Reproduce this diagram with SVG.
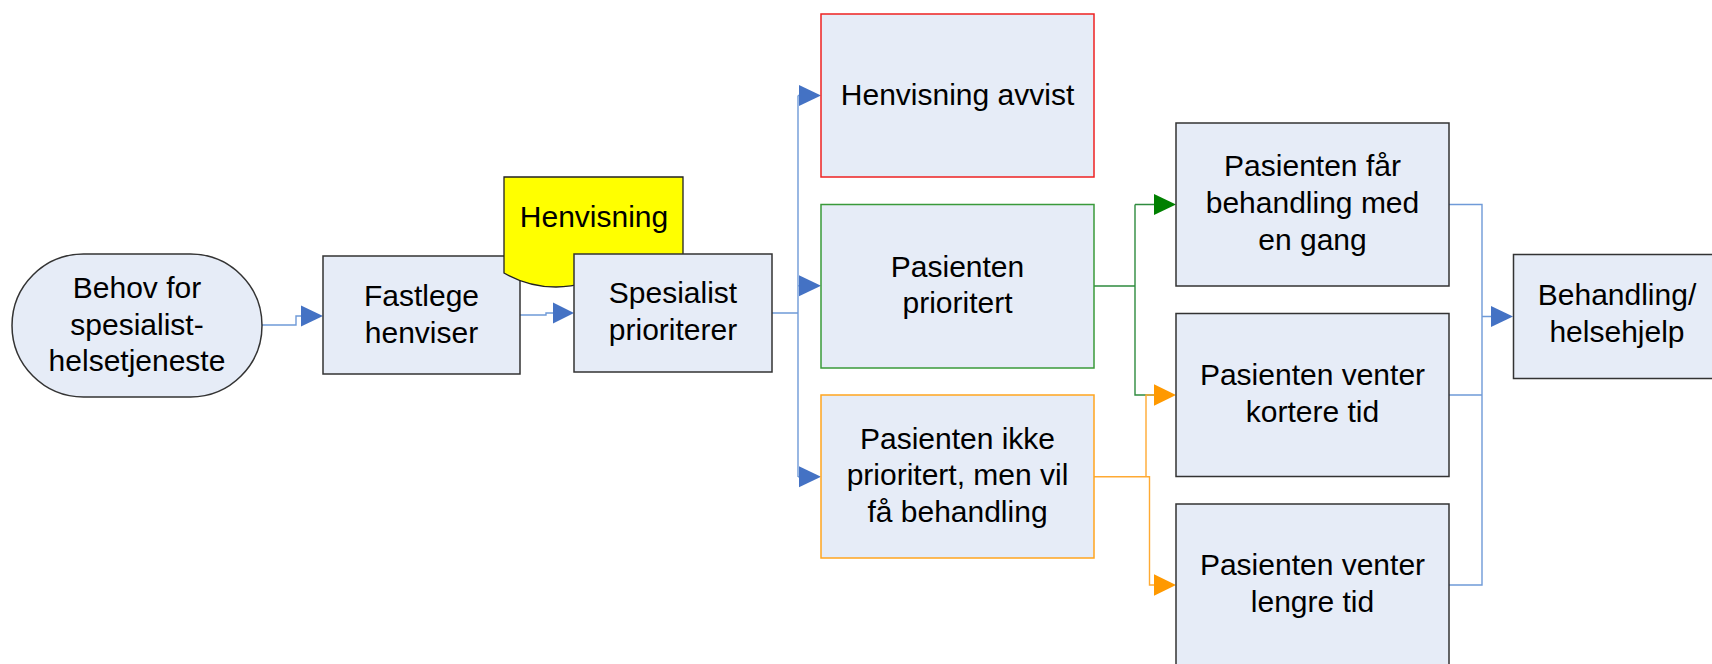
<svg xmlns="http://www.w3.org/2000/svg" width="1712" height="664" viewBox="0 0 1712 664">
<style>
.box{fill:#E6ECF7;stroke:#333;stroke-width:1.5}
.t{font-family:"Liberation Sans",Arial,sans-serif;font-size:30px;fill:#000;text-anchor:middle}
.cb{fill:none;stroke:#6F9AD8;stroke-width:1.4}
.cg{fill:none;stroke:#2E8B3E;stroke-width:1.4}
.co{fill:none;stroke:#FFAA33;stroke-width:1.4}
.ab{fill:#4472C4}
.ag{fill:#008000}
.ao{fill:#FF9900}
</style>
<rect width="1712" height="664" fill="#fff"/>
<g id="connectors">
<path class="cb" d="M262,325 H296 V316 H303"/>
<polygon class="ab" points="301,305.5 323,316 301,326.5"/>
<path class="cb" d="M520,315 H546 V313 H553"/>
<polygon class="ab" points="553,302.5 574,313 553,323.5"/>
<path class="cb" d="M772,313 H798 M798,95.5 V477 M798,95.5 H800 M798,285.7 H800 M798,476.7 H800"/>
<polygon class="ab" points="799,85 821,95.5 799,106"/>
<polygon class="ab" points="799,275.2 821,285.7 799,296.2"/>
<polygon class="ab" points="799,466.2 821,476.7 799,487.2"/>
<path class="cg" d="M1094,286 H1135 M1135,204.5 V395 H1155 M1135,204.5 H1155"/>
<polygon class="ag" points="1154,194 1176,204.5 1154,215"/>
<path class="co" d="M1094,476.7 H1146 V395 H1155 M1146,476.7 H1149.5 V585 H1155"/>
<polygon class="ao" points="1154,384.3 1176,395 1154,405.7"/>
<polygon class="ao" points="1154,574.3 1176,585 1154,595.7"/>
<path class="cb" d="M1449,204.5 H1482 V585 H1449 M1449,395 H1482 M1482,316.5 H1492"/>
<polygon class="ab" points="1491,306 1513,316.5 1491,327"/>
</g>
<g id="n-behov">
<rect class="box" x="12" y="254" width="250" height="143" rx="71.5"/>
<text class="t" x="137" y="298">Behov for</text>
<text class="t" x="137" y="334.5">spesialist-</text>
<text class="t" x="137" y="371">helsetjeneste</text>
</g>
<g id="n-fastlege">
<rect class="box" x="323" y="256" width="197" height="118"/>
<text class="t" x="421.5" y="306">Fastlege</text>
<text class="t" x="421.5" y="342.5">henviser</text>
</g>
<g id="n-henvisning">
<path d="M504,177 H683 V258 C640,255 600,287 556,287 C536,287 518,281 504,273 Z" fill="#FFFF00" stroke="#222" stroke-width="1.3"/>
<text class="t" x="594" y="227">Henvisning</text>
</g>
<g id="n-spesialist">
<rect class="box" x="574" y="254" width="198" height="118"/>
<text class="t" x="673" y="302.5">Spesialist</text>
<text class="t" x="673" y="339.5">prioriterer</text>
</g>
<g id="n-avvist">
<rect class="box" x="821" y="14" width="273" height="163" style="stroke:#EE2222"/>
<text class="t" x="957.5" y="105">Henvisning avvist</text>
</g>
<g id="n-prioritert">
<rect class="box" x="821" y="204.5" width="273" height="163.5" style="stroke:#3A9A3A"/>
<text class="t" x="957.5" y="276.5">Pasienten</text>
<text class="t" x="957.5" y="313">prioritert</text>
</g>
<g id="n-ikke">
<rect class="box" x="821" y="395" width="273" height="163" style="stroke:#FFA51F"/>
<text class="t" x="957.5" y="448.5">Pasienten ikke</text>
<text class="t" x="957.5" y="485">prioritert, men vil</text>
<text class="t" x="957.5" y="521.5">få behandling</text>
</g>
<g id="n-far">
<rect class="box" x="1176" y="123" width="273" height="163"/>
<text class="t" x="1312.5" y="176">Pasienten får</text>
<text class="t" x="1312.5" y="213">behandling med</text>
<text class="t" x="1312.5" y="250">en gang</text>
</g>
<g id="n-kortere">
<rect class="box" x="1176" y="313.5" width="273" height="163"/>
<text class="t" x="1312.5" y="385">Pasienten venter</text>
<text class="t" x="1312.5" y="421.5">kortere tid</text>
</g>
<g id="n-lengre">
<rect class="box" x="1176" y="504" width="273" height="163"/>
<text class="t" x="1312.5" y="575">Pasienten venter</text>
<text class="t" x="1312.5" y="611.5">lengre tid</text>
</g>
<g id="n-behandling">
<rect class="box" x="1513.5" y="254.5" width="208" height="124"/>
<text class="t" x="1617" y="305">Behandling/</text>
<text class="t" x="1617" y="341.5">helsehjelp</text>
</g>
</svg>
